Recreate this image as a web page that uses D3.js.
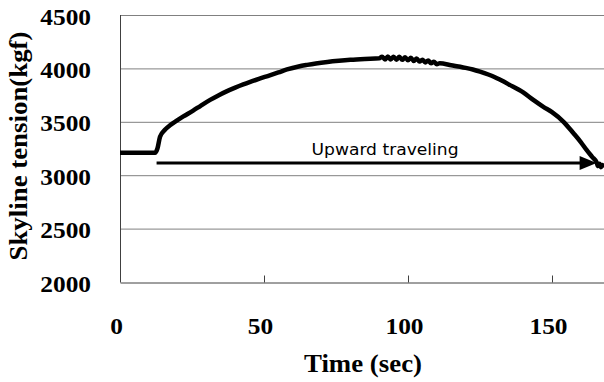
<!DOCTYPE html>
<html lang="en">
<head>
    <meta charset="UTF-8">
    <title>Skyline tension</title>
    <script src="https://d3js.org/d3.v7.min.js"></script>
    <style>
        body { margin: 0; background: #fff; }
    </style>
</head>
<body>
    <svg width="604" height="382"></svg>

    <script>
        // Time (sec) and skyline tension (kgf)
        const timeSec = [0, 12.2, 13, 13.9, 15.6, 17.5, 19.7, 22, 25.4, 28, 31.3, 34, 37, 40, 42.8, 45, 48,
            52, 55, 58, 62, 65, 68, 72, 76, 80, 85, 90,
            91, 92, 93, 94, 95, 96, 97, 98, 99, 100, 101, 102, 103, 104, 105, 106, 107, 108, 109, 110, 111,
            115, 120, 122.5, 125, 130, 132, 135, 140, 143.5, 147, 150, 154, 157.4, 160, 162, 164, 165.5,
            166, 166.5, 167, 167.5, 168];
        const tensionKgf = [3210, 3210, 3250, 3360, 3425, 3470, 3510, 3550, 3605, 3650, 3705, 3745, 3785, 3820, 3850, 3872, 3900,
            3935, 3962, 3990, 4018, 4033, 4046, 4060, 4071, 4080, 4088, 4094,
            4110, 4084, 4112, 4084, 4110, 4082, 4108, 4080, 4104, 4076, 4100, 4070, 4092, 4064, 4082, 4056, 4074, 4048, 4062, 4040, 4048,
            4030, 4005, 3990, 3970, 3920, 3893, 3850, 3775, 3705, 3640, 3590, 3500, 3395, 3310, 3236, 3170, 3120,
            3085, 3108, 3075, 3095, 3072];

        const xTicks = [0, 50, 100, 150];
        const yTicks = [2000, 2500, 3000, 3500, 4000, 4500];

        // Arrow annotation
        const arrowStart = 12.7, arrowEnd = 165.5, arrowLevel = 3115;
        const noteText = "Upward traveling";
        const noteTime = 66.5, noteLevel = 3190;

        const svg = d3.select("svg");

        const x = d3.scaleLinear().domain([0, 200]).range([120, 696]);
        const y = d3.scaleLinear().domain([2000, 4500]).range([282, 15]);

        const serif = "'Liberation Serif', 'Times New Roman', serif";

        // Gridlines
        svg.append("g")
            .selectAll("line")
            .data(yTicks.slice(1))
            .join("line")
            .attr("x1", x(0))
            .attr("x2", 604)
            .attr("y1", d => y(d) + 0.5)
            .attr("y2", d => y(d) + 0.5)
            .attr("stroke", "#808080")
            .attr("stroke-width", 1);

        // Left axis line
        svg.append("line")
            .attr("x1", x(0) + 0.5).attr("x2", x(0) + 0.5)
            .attr("y1", y(4500)).attr("y2", y(2000))
            .attr("stroke", "#404040");

        // Bottom axis with ticks pointing up
        const xAxis = svg.append("g")
            .attr("transform", `translate(0,${y(2000) + 0.5})`)
            .call(d3.axisBottom(x).tickValues(xTicks).tickSizeInner(-7).tickSizeOuter(0).tickFormat(d3.format("d")));
        xAxis.select(".domain").attr("stroke", "#404040");
        xAxis.selectAll(".tick line").attr("stroke", "#404040");
        xAxis.selectAll(".tick text")
            .attr("x", -4)
            .attr("y", 51)
            .attr("dy", null)
            .attr("fill", "#000")
            .attr("font-family", serif)
            .attr("font-weight", "bold")
            .attr("font-size", 23)
            .attr("textLength", d => String(d).length * 12.7)
            .attr("lengthAdjust", "spacingAndGlyphs");

        // Left axis labels
        const yAxis = svg.append("g")
            .attr("transform", `translate(${x(0)},0)`)
            .call(d3.axisLeft(y).tickValues(yTicks).tickSize(0).tickPadding(29).tickFormat(d3.format("d")));
        yAxis.select(".domain").remove();
        yAxis.selectAll(".tick text")
            .attr("dy", null)
            .attr("y", 9)
            .attr("fill", "#000")
            .attr("font-family", serif)
            .attr("font-weight", "bold")
            .attr("font-size", 23)
            .attr("textLength", 50.7)
            .attr("lengthAdjust", "spacingAndGlyphs");

        // Axis titles
        svg.append("text")
            .attr("x", 363)
            .attr("y", 372)
            .attr("text-anchor", "middle")
            .attr("font-family", serif)
            .attr("font-weight", "bold")
            .attr("font-size", 26)
            .attr("textLength", 118)
            .attr("lengthAdjust", "spacingAndGlyphs")
            .text("Time (sec)");

        svg.append("text")
            .attr("transform", "translate(27,146) rotate(-90)")
            .attr("text-anchor", "middle")
            .attr("font-family", serif)
            .attr("font-weight", "bold")
            .attr("font-size", 25)
            .attr("textLength", 229)
            .attr("lengthAdjust", "spacingAndGlyphs")
            .text("Skyline tension(kgf)");

        // Tension curve
        const series = timeSec.map((t, i) => [t, tensionKgf[i]]);
        const line = d3.line()
            .x(d => x(d[0]))
            .y(d => y(d[1]))
            .curve(d3.curveMonotoneX);

        svg.append("path")
            .datum(series)
            .attr("d", line)
            .attr("fill", "none")
            .attr("stroke", "#000")
            .attr("stroke-width", 4.5)
            .attr("stroke-linejoin", "round");

        // Arrow
        svg.append("line")
            .attr("x1", x(arrowStart))
            .attr("x2", x(arrowEnd) - 12)
            .attr("y1", y(arrowLevel))
            .attr("y2", y(arrowLevel))
            .attr("stroke", "#000")
            .attr("stroke-width", 3);

        const ax = x(arrowEnd), ay = y(arrowLevel);
        svg.append("path")
            .attr("d", `M${ax},${ay} L${ax - 17},${ay - 7} L${ax - 17},${ay + 7} Z`)
            .attr("fill", "#000");

        svg.append("text")
            .attr("x", x(noteTime))
            .attr("y", y(noteLevel))
            .attr("font-family", "'DejaVu Sans', Verdana, sans-serif")
            .attr("font-size", 16)
            .attr("textLength", 147)
            .attr("lengthAdjust", "spacingAndGlyphs")
            .text(noteText);
    </script>
</body>
</html>
